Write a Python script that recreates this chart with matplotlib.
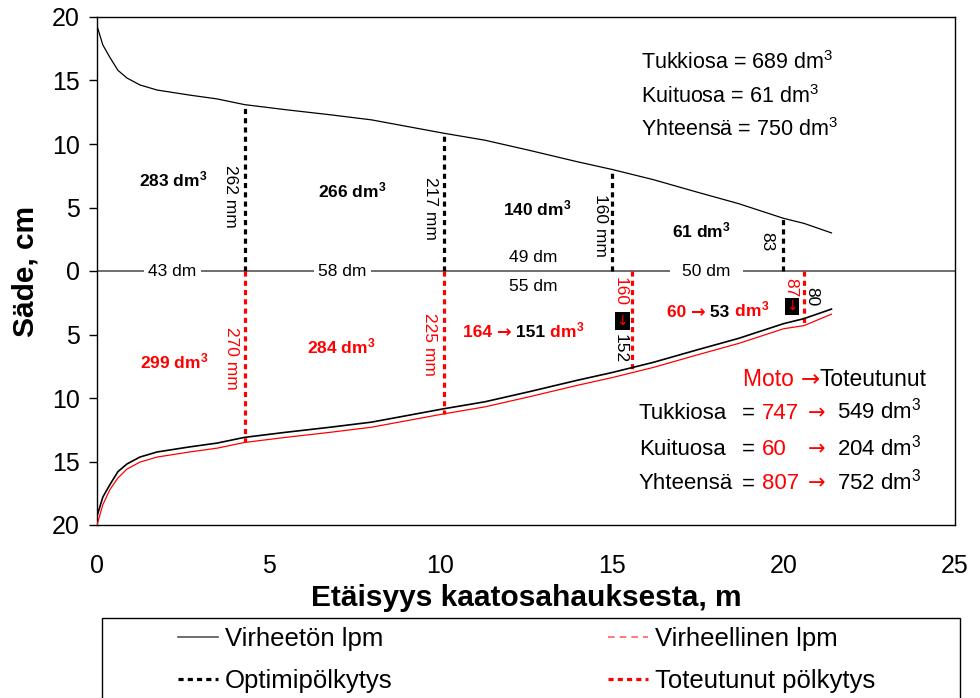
import matplotlib
matplotlib.use("Agg")
import matplotlib.pyplot as plt
from matplotlib.lines import Line2D
from matplotlib.patches import Rectangle

plt.rcParams['font.family'] = ['Liberation Sans', 'DejaVu Sans']
plt.rcParams['mathtext.fontset'] = 'custom'
plt.rcParams['mathtext.rm'] = 'Liberation Sans'
plt.rcParams['mathtext.it'] = 'Liberation Sans:italic'
plt.rcParams['mathtext.bf'] = 'Liberation Sans:bold'

# --- stem profile (distance from felling cut, m) and radius (cm) ---
dist_m = [0.0, 0.17, 0.38, 0.61, 0.87, 1.25, 1.75, 2.7, 3.5, 4.3, 5.5, 6.8,
          8.0, 9.0, 10.1, 11.3, 12.6, 14.0, 15.0, 15.6, 16.2, 17.5, 18.7, 20.0,
          20.6, 21.4]
radius_ok = [19.3, 17.8, 16.8, 15.8, 15.2, 14.65, 14.25, 13.85, 13.55, 13.1,
             12.7, 12.3, 11.9, 11.4, 10.85, 10.3, 9.5, 8.6, 8.0, 7.6, 7.2, 6.2,
             5.3, 4.15, 3.75, 3.0]
radius_err = [20.0, 18.4, 17.2, 16.3, 15.6, 15.05, 14.65, 14.25, 13.95, 13.5,
              13.1, 12.7, 12.3, 11.8, 11.25, 10.7, 9.9, 9.0, 8.4, 8.0, 7.6, 6.6,
              5.7, 4.55, 4.3, 3.4]

# --- optimal bucking ---
opt_cut_m = [4.3, 10.1, 15.0, 20.0]
opt_diam_mm = [262, 217, 160, 83]
opt_log_dm = [43, 58, 49, 50]
opt_vol_dm3 = [283, 266, 140, 61]
total_names = ["Tukkiosa", "Kuituosa", "Yhteensä"]
opt_totals = [689, 61, 750]

# --- realized bucking (harvester measurement -> true) ---
real_cut_m = [4.3, 10.1, 15.6, 20.6]
moto_diam_mm = [270, 225, 160, 87]
true_diam_mm = [152, 80]          # last two cuts
real_log_dm = [55]                # third log below the axis
moto_vol_dm3 = [299, 284, 164, 60]
true_vol_dm3 = [151, 53]          # last two logs
moto_totals = [747, 60, 807]
true_totals = [549, 204, 752]

RED = '#ff0000'
DOT = (0, (1.6, 1.3))
SANS = ['Liberation Sans', 'DejaVu Sans']
ARROW = ['DejaVu Sans']
DM3 = r"dm$^{3}$"
DM3B = r"dm$^{\mathbf{3}}$"

fig = plt.figure(figsize=(9.8, 6.98), dpi=100)
ax = fig.add_axes([97 / 980, (698 - 525) / 698, (955 - 97) / 980, (525 - 17) / 698])
ax.set_xlim(0, 25)
ax.set_ylim(-20, 20)
renderer = fig.canvas.get_renderer()


def rich_text(x, y, pieces, size, weight='normal'):
    """Baseline-aligned run of differently coloured pieces starting at (x, y)."""
    dx = 0.0
    for s, c, fam in pieces:
        t = ax.annotate(s, xy=(x, y), xycoords='data', xytext=(dx, 0),
                        textcoords='offset pixels', ha='left', va='baseline',
                        color=c, fontsize=size, weight=weight, family=fam)
        dx += t.get_window_extent(renderer).width


# zero line
ax.axhline(0, color='#555555', lw=1.2, zorder=1)

# stem curves
neg_ok = [-r for r in radius_ok]
neg_err = [-r for r in radius_err]
ax.plot(dist_m, radius_ok, color='black', lw=0.9, zorder=3)
ax.plot(dist_m, neg_ok, color='black', lw=1.2, zorder=3)
ax.plot(dist_m, neg_err, color=RED, lw=0.9, zorder=3)

# optimal cuts (above)
for x, d in zip(opt_cut_m, opt_diam_mm):
    ax.plot([x, x], [0, d / 20], color='black', lw=2.3, linestyle=DOT, zorder=2)
# realized cuts (below)
for x, d in zip(real_cut_m, moto_diam_mm):
    ax.plot([x, x], [0, -d / 20], color=RED, lw=2.3, linestyle=DOT, zorder=2)

fs_small = 12.5

# diameter labels, optimal
opt_diam_pos = [(3.9, 5.9), (9.73, 4.96), (14.66, 3.6), (19.52, 2.3)]
for (x, y), d, unit in zip(opt_diam_pos, opt_diam_mm, [' mm', ' mm', ' mm', '']):
    ax.text(x, y, f"{d}{unit}", rotation=270, ha='center', va='center',
            fontsize=fs_small, color='black')

# diameter labels, realized
moto_diam_pos = [(3.93, -6.9), (9.7, -5.8), (15.24, -1.63), (20.22, -1.3)]
for (x, y), d, unit in zip(moto_diam_pos, moto_diam_mm, [' mm', ' mm', '', '']):
    ax.text(x, y, f"{d}{unit}", rotation=270, ha='center', va='center',
            fontsize=fs_small, color=RED)
true_diam_pos = [(15.24, -6.1), (20.83, -2.0)]
for (x, y), d in zip(true_diam_pos, true_diam_mm):
    ax.text(x, y, f"{d}", rotation=270, ha='center', va='center',
            fontsize=fs_small, color='black')
# black marker boxes with red arrows
for (x, y) in [(15.3, -3.94), (20.25, -2.77)]:
    ax.text(x, y, "↓", ha='center', va='center', fontsize=10, color=RED,
            family=ARROW,
            bbox=dict(boxstyle='square,pad=0.12', fc='black', ec='none'))

# log lengths
on_line = [(2.2, opt_log_dm[0], 0.25), (7.14, opt_log_dm[1], 0.25),
           (17.76, opt_log_dm[3], 0.7)]
for x, v, pad in on_line:
    ax.text(x, 0.0, f"{v} dm", ha='center', va='center', fontsize=fs_small,
            bbox=dict(boxstyle=f'square,pad={pad}', fc='white', ec='none'), zorder=4)
ax.text(12.7, 1.05, f"{opt_log_dm[2]} dm", ha='center', va='center', fontsize=fs_small)
ax.text(12.7, -1.2, f"{real_log_dm[0]} dm", ha='center', va='center', fontsize=fs_small)

# volumes, optimal
opt_vol_pos = [(1.22, 6.7), (6.44, 5.83), (11.83, 4.41), (16.75, 2.68)]
for (x, y), v in zip(opt_vol_pos, opt_vol_dm3):
    ax.text(x, y, f"{v} " + DM3B, ha='left', va='baseline', fontsize=fs_small,
            weight='bold', color='black')

# volumes, realized
moto_vol_pos = [(1.25, -7.65), (6.12, -6.5)]
for (x, y), v in zip(moto_vol_pos, moto_vol_dm3[:2]):
    ax.text(x, y, f"{v} " + DM3B, ha='left', va='baseline', fontsize=fs_small,
            weight='bold', color=RED)

for (x, y), mv, tv in zip([(10.66, -5.2), (16.6, -3.6)], moto_vol_dm3[2:], true_vol_dm3):
    rich_text(x, y, [(f"{mv} ", RED, SANS), ("→", RED, ARROW), (f" {tv}", 'black', SANS),
                     (" " + DM3B, RED, SANS)], fs_small, 'bold')

# totals, optimal
for name, v, y in zip(total_names, opt_totals, [15.9, 13.2, 10.6]):
    ax.text(15.85, y, f"{name} = {v} " + DM3, ha='left', va='baseline', fontsize=15.5)

# totals, harvester vs. true
rich_text(18.83, -9.06, [("Moto ", RED, SANS), ("→", RED, ARROW),
                         ("Toteutunut", 'black', SANS)], 16.5)
for name, mv, tv, y in zip(total_names, moto_totals, true_totals, [-11.65, -14.5, -17.2]):
    ax.text(15.79, y, name, ha='left', va='baseline', fontsize=16)
    ax.text(18.79, y, "=", ha='left', va='baseline', fontsize=16)
    ax.text(19.38, y, f"{mv}", ha='left', va='baseline', fontsize=16, color=RED)
    ax.text(20.72, y, "→", ha='left', va='baseline', fontsize=15, color=RED, family=ARROW)
    ax.text(21.56, y, f"{tv} " + DM3, ha='left', va='baseline', fontsize=16)

# axes styling
yt = [-20, -15, -10, -5, 0, 5, 10, 15, 20]
ax.set_yticks(yt)
ax.set_yticklabels([str(abs(v)) for v in yt])
ax.set_xticks([0, 5, 10, 15, 20, 25])
ax.tick_params(axis='y', direction='out', length=5.5, width=1, pad=7, labelsize=18)
ax.tick_params(axis='x', length=0, pad=21, labelsize=18)
for s in ax.spines.values():
    s.set_linewidth(1.0)
    s.set_color('black')
ax.set_xlabel("Etäisyys kaatosahauksesta, m", fontsize=21.5, weight='bold', labelpad=4)
ax.set_ylabel("Säde, cm", fontsize=21.5, weight='bold', labelpad=9)

# legend
leg_fs = 18.5
h1 = [Line2D([], [], color='#555555', lw=1.2),
      Line2D([], [], color='black', lw=2.3, linestyle=DOT)]
h2 = [Line2D([], [], color='#ff6060', lw=1.2, linestyle=(0, (4, 3))),
      Line2D([], [], color=RED, lw=2.3, linestyle=DOT)]
common = dict(loc='upper left', frameon=False, borderpad=0, borderaxespad=0,
              handlelength=1.56, handletextpad=0.27, labelspacing=0.7,
              prop={'family': SANS, 'size': leg_fs})
fig.legend(h1, ["Virheetön lpm", "Optimipölkytys"],
           bbox_to_anchor=(178 / 980, (698 - 627) / 698), **common)
fig.legend(h2, ["Virheellinen lpm", "Toteutunut pölkytys"],
           bbox_to_anchor=(608 / 980, (698 - 627) / 698), **common)
fig.add_artist(Rectangle((102 / 980, -0.05), (960 - 102) / 980, (698 - 618) / 698 + 0.05,
                         transform=fig.transFigure, fill=False, ec='black', lw=1.0))

fig.savefig("out.png", dpi=100)
